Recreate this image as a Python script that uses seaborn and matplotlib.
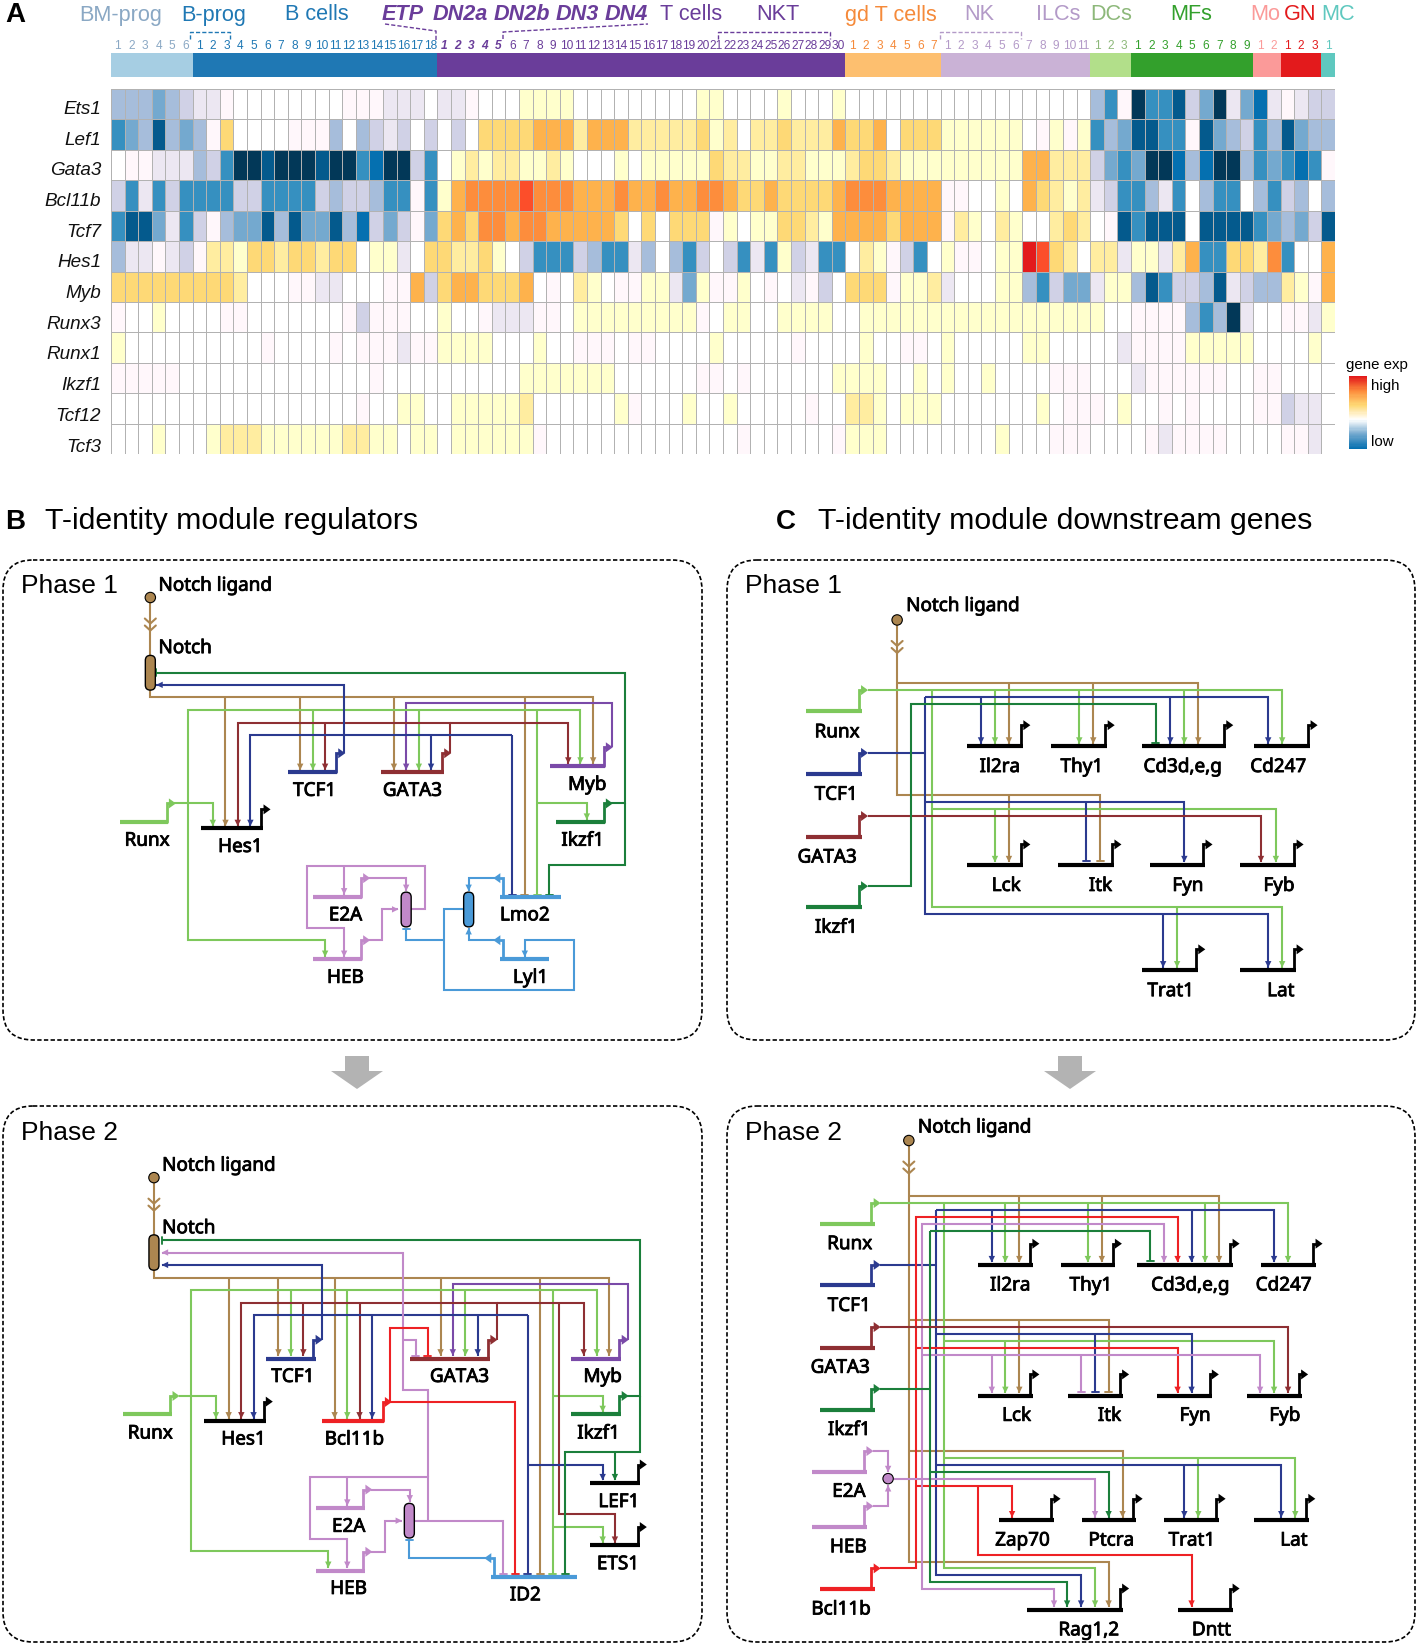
"""
plot.py

T-identity gene expression heatmap (A) plus the phase 1 / phase 2 regulatory
network schematics (B, C). Saves out.png at 1417x1644.

Network layouts are kept in grid units read off the figure, each panel has its
own origin and scale (see draw_network).
"""

import matplotlib
matplotlib.use("Agg")
import matplotlib.patheffects as pe
import matplotlib.pyplot as plt
import numpy as np
import seaborn as sns
from matplotlib.colors import LinearSegmentedColormap, ListedColormap
from matplotlib.patches import Circle, FancyBboxPatch, Polygon

W, H = 1417, 1644

# ---------------------------------------------------------------------------
# Heatmap data: a-i = low (pale to dark blue), 0 = mid, 1-7 = high (yellow to red)
# ---------------------------------------------------------------------------
GENES = ["Ets1", "Lef1", "Gata3", "Bcl11b", "Tcf7", "Hes1", "Myb",
         "Runx3", "Runx1", "Ikzf1", "Tcf12", "Tcf3"]
ETS1 = "dddedcbba0 0000000aaa bbb0bba000 1111000000 0001100001 0001000000 0000000000 00dfaiffhc eibegbabcc"
LEF1 = "fedhdeda30 000aaad0dc bc0c0c0333 3444244422 2223120223 2224334033 31111110a1 a1fdehhffa hedcfdhedd"
GATA3 = "0aabbbdcfi ihiiihiifg iicf012122 1121000101 1111322112 2111233211 1111111442 22cefeiigd giidfefgfa"
BCL11B = "cfbfcffffc cffffcdccd ffaf145555 6555444544 5445543343 3334555444 4aa0010432 12bcffdbf0 dff0dfcd0d"
TCF7 = "fhhebfcade ehdheehdgc ecae343554 5544444303 0333a10113 3214444344 4a21021002 320ahfhhh0 hhhhfedech"
HES1 = "dbbabca221 3323323301 1b03322310 cfffcdffbd 0dfc0cfbf1 cbff021acf 01aa011763 2022b11b24 ff3325f004"
MYB = "3333333332 000aabb000 aa4c344333 40a0210aa1 1be1aa10a0 bac0333a11 2b00011dfc eeb11dhfcc dhbcdd21a4"
RUNX3 = "a0010000aa 0000000aca aa00100abb baa0111111 111a011001 1110011111 1111111111 11100aaaad fdib00aab1"
RUNX1 = "1000000000 0a0000a0aa abaa111100 0100aaa0aa 0000100000 a0000100aa 0100000110 0000baaaa1 1111000010"
IKZF1 = "aaaaa00000 000000000a 0000000000 1111111000 000aa0a000 0001111001 010010000a aa000baaaa aa00aa0000"
TCF12 = "0000000000 00000000a0 0110011111 20000001a0 0010010000 0a00221011 1000000010 aaa0100a0a 0000aacbb0"
TCF3 = "0001000122 2111111221 1011011111 1a00000000 000000a000 000a111000 000001000a aa0000abaa aa0000aab0"
ROWS = [ETS1, LEF1, GATA3, BCL11B, TCF7, HES1, MYB, RUNX3, RUNX1, IKZF1, TCF12, TCF3]
LEVELS = {c: -(i + 1) for i, c in enumerate("abcdefghi")}
LEVELS.update({str(i): i for i in range(8)})

PUBU = ["#fff7fb", "#ece7f2", "#d0d1e6", "#a6bddb", "#74a9cf", "#3690c0", "#0570b0", "#045a8d", "#023858"]
YLORRD = ["#ffffcc", "#ffeda0", "#fed976", "#feb24c", "#fd8d3c", "#fc4e2a", "#e31a1c"]

# cell groups along the top: size, strip colour, number colour
GROUP_SIZES = [6, 18, 30, 7, 11, 3, 9, 2, 3, 1]
GROUP_STRIP = ["#a6cee3", "#1f78b4", "#6a3d9a", "#fdbf6f", "#cab2d6", "#b2df8a", "#33a02c", "#fb9a99", "#e31a1c", "#5fc8bf"]
GROUP_TEXT = ["#8aa8c4", "#1f78b4", "#6a3d9a", "#f58a3a", "#b39ac8", "#8db87a", "#33a02c", "#fb9a99", "#e31a1c", "#5fc8bf"]

# top labels: text, centre x, colour, bold italic
TOP_LABELS = [
    ("BM-prog", 121, "#8aa8c4", False), ("B-prog", 214, "#1f78b4", False),
    ("B cells", 317, "#1f78b4", False), ("ETP", 403, "#6a3d9a", True),
    ("DN2a", 460, "#6a3d9a", True), ("DN2b", 522, "#6a3d9a", True),
    ("DN3", 577, "#6a3d9a", True), ("DN4", 626, "#6a3d9a", True),
    ("T cells", 691, "#6a3d9a", False), ("NKT", 778, "#6a3d9a", False),
    ("gd T cells", 891, "#f58a3a", False), ("NK", 979, "#b39ac8", False),
    ("ILCs", 1058, "#b39ac8", False), ("DCs", 1111, "#8db87a", False),
    ("MFs", 1191, "#33a02c", False), ("Mo", 1265, "#fb9a99", False),
    ("GN", 1300, "#e31a1c", False), ("MC", 1338, "#5fc8bf", False),
]
BRACKETS = [
    ("#1f78b4", [(190, 39), (190, 32), (230, 32), (230, 39)]),
    ("#6a3d9a", [(385, 24), (436, 31), (436, 40)]),
    ("#6a3d9a", [(503, 39), (503, 32), (648, 24)]),
    ("#6a3d9a", [(718, 39), (718, 32), (830, 32), (830, 39)]),
    ("#b39ac8", [(940, 39), (940, 32), (1021, 32), (1021, 39)]),
]

# ---------------------------------------------------------------------------
# Network data
# ---------------------------------------------------------------------------
COLORS = {"br": "#ac8650", "lg": "#7ec85c", "dg": "#1b7f3b", "na": "#2b3a8f",
          "ma": "#8e2f33", "pu": "#7a4aa8", "pi": "#c189c9", "bl": "#4a9ad8",
          "re": "#ee2124", "k": "black"}

# gene: label, bar x0, bar x1, bar y, colour, promoter x, promoter top y, direction, label x, label y
B1_GENES = [
    ("TCF1", 636, 745, 776, "na", 742, 722, 1, 695, 825),
    ("GATA3", 842, 980, 776, "ma", 976, 722, 1, 911, 825),
    ("Myb", 1214, 1337, 758, "pu", 1333, 705, 1, 1297, 808),
    ("Hes1", 444, 580, 936, "k", 577, 882, 1, 531, 985),
    ("Runx", 265, 372, 917, "lg", 368, 865, 1, 325, 967),
    ("Ikzf1", 1228, 1337, 917, "dg", 1333, 865, 1, 1287, 967),
    ("E2A", 692, 800, 1131, "pi", 797, 1078, 1, 763, 1180),
    ("HEB", 692, 800, 1308, "pi", 797, 1255, 1, 763, 1358),
    ("Lmo2", 1105, 1240, 1131, "bl", 1110, 1078, -1, 1159, 1180),
    ("Lyl1", 1105, 1213, 1308, "bl", 1110, 1255, -1, 1172, 1358),
]
# edge: colour, end type (> arrow, | bar, - plain), path
B1_EDGES = [
    ("br", ">", [(332, 542), (332, 563), (1310, 563), (1310, 752)]),
    ("br", ">", [(498, 563), (498, 930)]), ("br", ">", [(663, 563), (663, 770)]),
    ("br", ">", [(870, 563), (870, 770)]), ("br", "|", [(1159, 563), (1159, 1125)]),
    ("pu", ">", [(1352, 705), (1352, 580), (897, 580), (897, 770)]),
    ("lg", ">", [(385, 865), (470, 865), (470, 930)]),
    ("lg", ">", [(415, 865), (415, 600), (1282, 600), (1282, 752)]),
    ("lg", ">", [(691, 600), (691, 770)]), ("lg", ">", [(925, 600), (925, 770)]),
    ("lg", "|", [(1186, 600), (1186, 1125)]),
    ("lg", ">", [(1186, 865), (1296, 865), (1296, 912)]),
    ("lg", ">", [(415, 865), (415, 1255), (718, 1255), (718, 1303)]),
    ("ma", ">", [(994, 722), (994, 635), (525, 635), (525, 930)]),
    ("ma", ">", [(994, 635), (1255, 635), (1255, 752)]),
    ("ma", ">", [(718, 635), (718, 770)]),
    ("na", ">", [(760, 722), (760, 527), (345, 527)]),
    ("na", ">", [(1131, 670), (553, 670), (553, 930)]),
    ("na", "|", [(1131, 670), (1131, 1125)]), ("na", ">", [(952, 670), (952, 770)]),
    ("dg", "|", [(1345, 865), (1380, 865), (1380, 492), (345, 492)]),
    ("dg", "|", [(1380, 865), (1380, 1042), (1213, 1042), (1213, 1125)]),
    ("pi", ">", [(812, 1078), (897, 1078), (897, 1115)]),
    ("pi", ">", [(812, 1255), (843, 1255), (843, 1167), (880, 1167)]),
    ("pi", ">", [(908, 1167), (938, 1167), (938, 1043), (678, 1043), (678, 1220), (760, 1220), (760, 1303)]),
    ("pi", ">", [(760, 1043), (760, 1125)]),
    ("bl", ">", [(1095, 1078), (1035, 1078), (1035, 1115)]),
    ("bl", ">", [(1095, 1255), (1035, 1255), (1035, 1220)]),
    ("bl", ">", [(1024, 1167), (980, 1167), (980, 1397), (1268, 1397), (1268, 1255), (1159, 1255), (1159, 1303)]),
    ("bl", "|", [(980, 1255), (897, 1255), (897, 1222)]),
]
B1_CAPSULES = [("br", 332, 443, 542), ("pi", 897, 1118, 1217), ("bl", 1035, 1118, 1217)]

B2_GENES = [
    ("TCF1", 588, 697, 760, "na", 692, 707, 1, 647, 808),
    ("GATA3", 905, 1082, 760, "ma", 1078, 707, 1, 1015, 808),
    ("Myb", 1262, 1372, 760, "pu", 1368, 707, 1, 1331, 808),
    ("Hes1", 451, 587, 936, "k", 582, 882, 1, 538, 985),
    ("Bcl11b", 712, 849, 936, "re", 845, 883, 1, 783, 985),
    ("Runx", 271, 380, 918, "lg", 376, 866, 1, 332, 968),
    ("Ikzf1", 1262, 1372, 918, "dg", 1368, 866, 1, 1322, 968),
    ("LEF1", 1304, 1413, 1112, "k", 1408, 1060, 1, 1367, 1162),
    ("ETS1", 1304, 1413, 1289, "k", 1408, 1237, 1, 1365, 1338),
    ("E2A", 698, 807, 1183, "pi", 802, 1131, 1, 770, 1232),
    ("HEB", 698, 807, 1360, "pi", 802, 1307, 1, 770, 1408),
    ("ID2", 1084, 1275, 1378, "bl", 1090, 1325, -1, 1160, 1426),
]
B2_EDGES = [
    ("br", ">", [(340, 510), (340, 532), (1345, 532), (1345, 752)]),
    ("br", ">", [(505, 532), (505, 930)]), ("br", ">", [(615, 532), (615, 752)]),
    ("br", ">", [(739, 532), (739, 930)]), ("br", ">", [(973, 532), (973, 752)]),
    ("br", "|", [(1193, 532), (1193, 1370)]),
    ("pu", ">", [(1387, 707), (1387, 548), (1000, 548), (1000, 752)]),
    ("lg", ">", [(395, 866), (477, 866), (477, 930)]),
    ("lg", ">", [(422, 866), (422, 566), (1318, 566), (1318, 752)]),
    ("lg", ">", [(642, 566), (642, 752)]), ("lg", ">", [(767, 566), (767, 930)]),
    ("lg", ">", [(1028, 566), (1028, 752)]), ("lg", "|", [(1221, 566), (1221, 1370)]),
    ("lg", ">", [(1221, 866), (1331, 866), (1331, 912)]),
    ("lg", ">", [(1221, 1237), (1331, 1237), (1331, 1282)]),
    ("lg", ">", [(422, 866), (422, 1306), (725, 1306), (725, 1353)]),
    ("ma", ">", [(1097, 707), (1097, 602), (533, 602), (533, 930)]),
    ("ma", ">", [(1097, 602), (1289, 602), (1289, 752)]),
    ("ma", ">", [(670, 602), (670, 752)]), ("ma", ">", [(794, 602), (794, 930)]),
    ("ma", ">", [(1235, 602), (1235, 1200), (1358, 1200), (1358, 1282)]),
    ("na", ">", [(712, 707), (712, 495), (357, 495)]),
    ("na", ">", [(1166, 637), (560, 637), (560, 930)]),
    ("na", "|", [(1166, 637), (1166, 1370)]), ("na", ">", [(822, 637), (822, 930)]),
    ("na", ">", [(1055, 637), (1055, 752)]),
    ("na", ">", [(1166, 1060), (1331, 1060), (1331, 1105)]),
    ("dg", "|", [(1385, 866), (1414, 866), (1414, 425), (357, 425)]),
    ("dg", "|", [(1414, 866), (1414, 1025), (1248, 1025), (1248, 1370)]),
    ("dg", ">", [(1358, 1025), (1358, 1105)]),
    ("pi", ">", [(945, 1095), (945, 848), (890, 848), (890, 460), (357, 460)]),
    ("pi", "|", [(890, 707), (918, 707), (918, 752)]),
    ("re", "|", [(860, 883), (1138, 883), (1138, 1370)]),
    ("re", "|", [(862, 883), (862, 673), (945, 673), (945, 752)]),
    ("pi", ">", [(820, 1131), (905, 1131), (905, 1165)]),
    ("pi", ">", [(820, 1307), (850, 1307), (850, 1219), (888, 1219)]),
    ("pi", "|", [(916, 1219), (1111, 1219), (1111, 1370)]),
    ("pi", ">", [(945, 1219), (945, 1095), (685, 1095), (685, 1272), (767, 1272), (767, 1353)]),
    ("pi", ">", [(767, 1095), (767, 1177)]),
    ("bl", "|", [(1078, 1325), (904, 1325), (904, 1275)]),
]
B2_CAPSULES = [("br", 340, 410, 510), ("pi", 904, 1170, 1268)]

C1_GENES = [
    ("Il2ra", 570, 694, 702, "k", 690, 642, 1, 643, 757),
    ("Thy1", 757, 881, 702, "k", 877, 642, 1, 825, 757),
    ("Cd3d,e,g", 958, 1145, 702, "k", 1140, 642, 1, 1048, 757),
    ("Cd247", 1207, 1331, 702, "k", 1327, 642, 1, 1260, 757),
    ("Lck", 570, 694, 1040, "k", 690, 982, 1, 657, 1096),
    ("Itk", 772, 896, 1040, "k", 892, 982, 1, 866, 1096),
    ("Fyn", 975, 1098, 1040, "k", 1094, 982, 1, 1060, 1096),
    ("Fyb", 1176, 1300, 1040, "k", 1296, 982, 1, 1262, 1096),
    ("Trat1", 958, 1082, 1340, "k", 1078, 1281, 1, 1022, 1396),
    ("Lat", 1176, 1300, 1340, "k", 1296, 1281, 1, 1266, 1396),
    ("Runx", 213, 337, 602, "lg", 330, 542, 1, 282, 658),
    ("TCF1", 213, 337, 781, "na", 330, 721, 1, 280, 836),
    ("GATA3", 213, 337, 961, "ma", 330, 901, 1, 260, 1015),
    ("Ikzf1", 213, 337, 1161, "dg", 330, 1101, 1, 280, 1215),
]
C1_EDGES = [
    ("br", ">", [(415, 522), (1083, 522), (1083, 695)]),
    ("br", ">", [(663, 522), (663, 695)]), ("br", ">", [(850, 522), (850, 695)]),
    ("br", "|", [(415, 522), (415, 841), (865, 841), (865, 1030)]),
    ("br", ">", [(663, 841), (663, 1033)]),
    ("lg", ">", [(350, 542), (1269, 542), (1269, 695)]),
    ("lg", ">", [(632, 542), (632, 695)]), ("lg", ">", [(819, 542), (819, 695)]),
    ("lg", ">", [(1052, 542), (1052, 695)]),
    ("lg", ">", [(493, 542), (493, 881), (1255, 881), (1255, 1033)]),
    ("lg", ">", [(632, 881), (632, 1033)]),
    ("lg", ">", [(493, 881), (493, 1161), (1269, 1161), (1269, 1333)]),
    ("lg", ">", [(1036, 1161), (1036, 1333)]),
    ("na", "-", [(350, 721), (477, 721)]),
    ("na", ">", [(477, 562), (477, 1181), (1238, 1181), (1238, 1333)]),
    ("na", ">", [(477, 562), (1238, 562), (1238, 695)]),
    ("na", ">", [(601, 562), (601, 695)]), ("na", ">", [(1021, 562), (1021, 695)]),
    ("na", ">", [(477, 861), (1052, 861), (1052, 1033)]),
    ("na", "|", [(834, 861), (834, 1030)]), ("na", ">", [(1005, 1181), (1005, 1333)]),
    ("ma", ">", [(350, 901), (1222, 901), (1222, 1033)]),
    ("dg", "|", [(350, 1101), (446, 1101), (446, 582), (989, 582), (989, 692)]),
]

C2_GENES = [
    ("Il2ra", 594, 716, 495, "k", 710, 435, 1, 666, 549),
    ("Thy1", 778, 899, 495, "k", 893, 435, 1, 845, 549),
    ("Cd3d,e,g", 946, 1160, 495, "k", 1154, 435, 1, 1065, 549),
    ("Cd247", 1221, 1343, 495, "k", 1338, 435, 1, 1272, 549),
    ("Lck", 594, 716, 865, "k", 710, 805, 1, 680, 918),
    ("Itk", 793, 915, 865, "k", 909, 805, 1, 886, 918),
    ("Fyn", 991, 1113, 865, "k", 1108, 805, 1, 1076, 918),
    ("Fyb", 1191, 1312, 865, "k", 1306, 805, 1, 1275, 918),
    ("Zap70", 640, 762, 1217, "k", 757, 1157, 1, 693, 1271),
    ("Ptcra", 824, 945, 1217, "k", 939, 1157, 1, 890, 1271),
    ("Trat1", 1007, 1129, 1217, "k", 1123, 1157, 1, 1069, 1271),
    ("Lat", 1206, 1328, 1217, "k", 1322, 1157, 1, 1295, 1271),
    ("Rag1,2", 702, 915, 1471, "k", 909, 1411, 1, 840, 1525),
    ("Dntt", 1038, 1160, 1471, "k", 1154, 1411, 1, 1112, 1525),
    ("Runx", 243, 365, 378, "lg", 358, 320, 1, 310, 432),
    ("TCF1", 243, 365, 553, "na", 358, 495, 1, 309, 607),
    ("GATA3", 243, 365, 730, "ma", 358, 671, 1, 289, 782),
    ("Ikzf1", 243, 365, 905, "dg", 358, 846, 1, 309, 958),
    ("E2A", 227, 348, 1080, "pi", 342, 1022, 1, 308, 1133),
    ("HEB", 227, 348, 1237, "pi", 342, 1178, 1, 307, 1290),
    ("Bcl11b", 243, 365, 1412, "re", 358, 1354, 1, 291, 1466),
]
C2_EDGES = [
    ("br", ">", [(441, 300), (1129, 300), (1129, 488)]),
    ("br", ">", [(686, 300), (686, 488)]), ("br", ">", [(869, 300), (869, 488)]),
    ("br", ">", [(441, 300), (441, 1335), (884, 1335), (884, 1463)]),
    ("br", "|", [(441, 651), (884, 651), (884, 855)]), ("br", ">", [(686, 651), (686, 858)]),
    ("br", ">", [(441, 1022), (915, 1022), (915, 1210)]),
    ("lg", ">", [(378, 320), (1282, 320), (1282, 488)]),
    ("lg", ">", [(655, 320), (655, 488)]), ("lg", ">", [(838, 320), (838, 488)]),
    ("lg", ">", [(1098, 320), (1098, 488)]),
    ("lg", ">", [(518, 320), (518, 1353), (854, 1353), (854, 1463)]),
    ("lg", ">", [(518, 710), (1251, 710), (1251, 858)]), ("lg", ">", [(655, 710), (655, 858)]),
    ("lg", ">", [(518, 1041), (1298, 1041), (1298, 1210)]), ("lg", ">", [(1083, 1041), (1083, 1210)]),
    ("na", "-", [(378, 495), (502, 495)]),
    ("na", ">", [(502, 339), (502, 1373), (823, 1373), (823, 1463)]),
    ("na", ">", [(502, 339), (1251, 339), (1251, 488)]),
    ("na", ">", [(625, 339), (625, 488)]), ("na", ">", [(1068, 339), (1068, 488)]),
    ("na", ">", [(502, 690), (1068, 690), (1068, 858)]), ("na", "|", [(854, 690), (854, 855)]),
    ("na", ">", [(502, 1060), (1267, 1060), (1267, 1210)]), ("na", ">", [(1052, 1060), (1052, 1210)]),
    ("re", ">", [(378, 1354), (457, 1354), (457, 359), (1037, 359), (1037, 488)]),
    ("re", ">", [(457, 730), (1037, 730), (1037, 858)]),
    ("re", ">", [(457, 1120), (670, 1120), (670, 1210)]),
    ("re", ">", [(594, 1120), (594, 1315), (1068, 1315), (1068, 1463)]),
    ("pi", ">", [(362, 1022), (395, 1022), (395, 1082)]),
    ("pi", ">", [(362, 1178), (395, 1178), (395, 1118)]),
    ("pi", ">", [(408, 1100), (854, 1100), (854, 1210)]),
    ("pi", ">", [(471, 1100), (471, 1412), (763, 1412), (763, 1463)]),
    ("pi", ">", [(471, 1100), (471, 378), (1007, 378), (1007, 488)]),
    ("pi", ">", [(471, 749), (1220, 749), (1220, 858)]), ("pi", ">", [(625, 749), (625, 858)]),
    ("pi", "|", [(823, 749), (823, 855)]),
    ("dg", "-", [(378, 846), (487, 846)]),
    ("dg", ">", [(487, 398), (487, 1392), (792, 1392), (792, 1463)]),
    ("dg", "|", [(487, 398), (976, 398), (976, 485)]),
    ("dg", ">", [(487, 1080), (884, 1080), (884, 1210)]),
    ("ma", ">", [(378, 671), (1282, 671), (1282, 858)]),
]

# panel: origin x, origin y, x scale, y scale
B1_GRID = (0, 500, 1568 / 710, 1568 / 550)
C1_GRID = (710, 500, 1568 / 707, 1568 / 550)
B2_GRID = (0, 1090, 1568 / 710, 1568 / 554)
C2_GRID = (710, 1090, 1568 / 707, 1568 / 554)

NET_FONT = {"family": "Noto Sans", "size": 13.6, "color": "black",
            "path_effects": [pe.withStroke(linewidth=0.6, foreground="black")]}


def arrow_head(ax, end, prev, color, length=6.5, half=3.2):
    """Filled triangle with its tip on end, pointing away from prev."""
    d = np.array(end, float) - np.array(prev, float)
    d /= np.hypot(*d)
    n = np.array([-d[1], d[0]])
    tip = np.array(end, float)
    base = tip - d * length
    ax.add_patch(Polygon([tip, base + n * half, base - n * half], closed=True,
                         fc=color, ec="none", zorder=4))


def draw_network(ax, grid, genes, edges, capsules=(), ligand=None, notch_label=None, dot=None):
    ox, oy, sx, sy = grid

    def px(p):
        return ox + p[0] / sx, oy + p[1] / sy

    for key, end, path in edges:
        color = COLORS[key]
        pts = [px(p) for p in path]
        ax.plot(*zip(*pts), color=color, lw=1.5, solid_joinstyle="miter",
                solid_capstyle="butt", zorder=3)
        if end == ">":
            arrow_head(ax, pts[-1], pts[-2], color)
        elif end == "|":
            tip, prev = np.array(pts[-1]), np.array(pts[-2])
            d = (tip - prev) / np.hypot(*(tip - prev))
            n = np.array([-d[1], d[0]]) * 3.5
            ax.plot(*zip(tip + n, tip - n), color=color, lw=1.35, zorder=3)

    for label, x0, x1, y, key, prom_x, prom_y, direction, lab_x, lab_y in genes:
        color = COLORS[key]
        ax.plot(*zip(px((x0, y)), px((x1, y))), color=color, lw=3.0,
                solid_capstyle="butt", zorder=5)
        stem = [px((prom_x, y)), px((prom_x, prom_y)), px((prom_x + direction * 5, prom_y))]
        ax.plot(*zip(*stem), color=color, lw=2.0, solid_joinstyle="miter", zorder=5)
        tip = (stem[2][0] + direction * 7, stem[2][1])
        arrow_head(ax, tip, stem[2], color, length=7, half=5)
        x, y_text = px((lab_x, lab_y))
        ax.text(x, y_text + 1.5, label, ha="center", va="center", zorder=6, **NET_FONT)

    for key, cx, y0, y1 in capsules:
        x, top = px((cx, y0))
        _, bottom = px((cx, y1))
        ax.add_patch(FancyBboxPatch((x - 5, top), 10, bottom - top,
                                    boxstyle="round,pad=0,rounding_size=5",
                                    fc=COLORS[key], ec="black", lw=1.0, zorder=6))

    if ligand is not None:
        lx, ly, stop, lab_x, lab_y = ligand
        cx, cy = px((lx, ly))
        _, y_stop = px((lx, stop))
        ax.plot([cx, cx], [cy, y_stop], color=COLORS["br"], lw=1.5, zorder=3)
        for offset in (26, 33):
            ax.plot([cx - 5.5, cx, cx + 5.5], [cy + offset - 5, cy + offset, cy + offset - 5],
                    color=COLORS["br"], lw=1.5, zorder=4)
        ax.add_patch(Circle((cx, cy), 5.2, fc=COLORS["br"], ec="black", lw=0.8, zorder=6))
        x, y_text = px((lab_x, lab_y))
        ax.text(x, y_text + 1.5, "Notch ligand", ha="left", va="center", **NET_FONT)
    if notch_label is not None:
        x, y_text = px(notch_label)
        ax.text(x, y_text + 1.5, "Notch", ha="left", va="center", **NET_FONT)
    if dot is not None:
        ax.add_patch(Circle(px(dot), 5.2, fc=COLORS["pi"], ec="black", lw=0.8, zorder=6))


def axes_px(fig, left, top, right, bottom):
    return fig.add_axes([left / W, 1 - bottom / H, (right - left) / W, (bottom - top) / H])


def main():
    sns.set_theme(style="white")
    plt.rcParams["font.family"] = ["Liberation Sans", "DejaVu Sans"]
    plt.rcParams["text.color"] = "black"

    fig = plt.figure(figsize=(W / 100, H / 100), dpi=100)
    canvas = fig.add_axes([0, 0, 1, 1])
    canvas.set_xlim(0, W)
    canvas.set_ylim(H, 0)
    canvas.axis("off")

    # --- A: heatmap ---
    matrix = np.array([[LEVELS[c] for c in row.replace(" ", "")] for row in ROWS])
    level_cmap = ListedColormap(PUBU[::-1] + ["#ffffff"] + YLORRD)
    ax_heat = axes_px(fig, 111, 89, 1335, 454)
    sns.heatmap(matrix, ax=ax_heat, cmap=level_cmap, vmin=-9.5, vmax=7.5, cbar=False,
                linewidths=0.7, linecolor="#b2b2b2", xticklabels=False, yticklabels=GENES)
    # gene names sit a little below the row centres in the original
    ax_heat.set_yticks(np.linspace(0.67, 11.77, len(GENES)), GENES)
    ax_heat.tick_params(axis="y", length=0, pad=7)
    for label in ax_heat.get_yticklabels():
        label.set(rotation=0, style="italic", fontsize=13.6, color="#111111")

    # --- A: group strip with per-column numbers ---
    group_ids = np.repeat(np.arange(len(GROUP_SIZES)), GROUP_SIZES)[None, :]
    numbers = [str(n + 1) for size in GROUP_SIZES for n in range(size)]
    ax_strip = axes_px(fig, 111, 53, 1335, 77)
    sns.heatmap(group_ids, ax=ax_strip, cmap=ListedColormap(GROUP_STRIP), cbar=False,
                xticklabels=numbers, yticklabels=False)
    ax_strip.xaxis.tick_top()
    ax_strip.tick_params(axis="x", length=0, pad=0.5)
    text_colors = np.repeat(GROUP_TEXT, GROUP_SIZES)
    for i, label in enumerate(ax_strip.get_xticklabels()):
        label.set(rotation=0, fontsize=8.6, color=text_colors[i])
        if 24 <= i < 29:
            label.set(weight="bold", style="italic")

    for text, x, color, dev in TOP_LABELS:
        canvas.text(x, 15, text, color=color, ha="center", va="center", fontsize=15.6,
                    weight="bold" if dev else "normal", style="italic" if dev else "normal")
    for color, pts in BRACKETS:
        canvas.plot(*zip(*pts), color=color, lw=1.0, ls=(0, (3, 1.5)))

    # --- A: colour key ---
    key_cmap = LinearSegmentedColormap.from_list(
        "key", ["#0570b0", "#74a9cf", "#ffffff", "#fed976", "#fd8d3c", "#e31a1c"])
    ax_key = axes_px(fig, 1349, 376, 1367, 449)
    sns.heatmap(np.linspace(1, 0, 64)[:, None], ax=ax_key, cmap=key_cmap, cbar=False,
                xticklabels=False, yticklabels=False)
    canvas.text(1346, 365, "gene exp", ha="left", va="center", fontsize=10.8)
    canvas.text(1371, 386, "high", ha="left", va="center", fontsize=10.8)
    canvas.text(1371, 442, "low", ha="left", va="center", fontsize=10.8)

    # --- panel letters and titles ---
    for letter, x, y in [("A", 15, 15), ("B", 15, 522), ("C", 786, 522)]:
        canvas.text(x, y, letter, ha="center", va="center", fontsize=20, weight="bold")
    canvas.text(45, 521, "T-identity module regulators", ha="left", va="center", fontsize=21.8)
    canvas.text(818, 521, "T-identity module downstream genes", ha="left", va="center", fontsize=21.8)

    # --- dashed phase boxes ---
    for x0, x1, y0, y1, name, tx, ty in [
        (3, 702, 560, 1040, "Phase 1", 21, 586),
        (727, 1415, 560, 1040, "Phase 1", 745, 586),
        (3, 702, 1106, 1642, "Phase 2", 21, 1133),
        (727, 1415, 1106, 1642, "Phase 2", 745, 1133),
    ]:
        canvas.add_patch(FancyBboxPatch((x0, y0), x1 - x0, y1 - y0,
                                        boxstyle="round,pad=0,rounding_size=30",
                                        fc="none", ec="black", lw=1.2, ls=(0, (2.6, 1.4))))
        canvas.text(tx, ty, name, ha="left", va="center", fontsize=19)

    # --- grey arrows between phases ---
    for cx in (357, 1070):
        canvas.add_patch(Polygon([(cx - 12, 1056), (cx + 12, 1056), (cx + 12, 1071), (cx + 26, 1071),
                                  (cx, 1089), (cx - 26, 1071), (cx - 12, 1071)],
                                 closed=True, fc="#b3b3b3", ec="none"))

    # --- networks ---
    draw_network(canvas, B1_GRID, B1_GENES, B1_EDGES, B1_CAPSULES,
                 ligand=(332, 278, 445, 350, 240), notch_label=(350, 418))
    draw_network(canvas, B2_GRID, B2_GENES, B2_EDGES, B2_CAPSULES,
                 ligand=(340, 248, 412, 358, 210), notch_label=(358, 387))
    draw_network(canvas, C1_GRID, C1_GENES, C1_EDGES,
                 ligand=(415, 342, 522, 435, 298))
    draw_network(canvas, C2_GRID, C2_GENES, C2_EDGES,
                 ligand=(441, 143, 300, 461, 102), dot=(395, 1100))

    fig.savefig("out.png", dpi=100)
    plt.close(fig)


if __name__ == "__main__":
    main()
